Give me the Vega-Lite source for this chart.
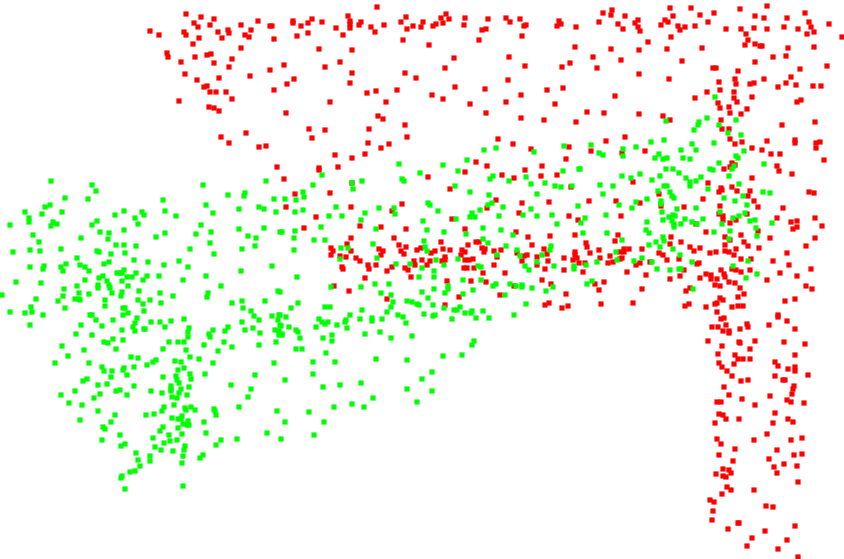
{"$schema":"https://vega.github.io/schema/vega-lite/v6.json","width":844,"height":559,"padding":0,"autosize":"none","background":"white","view":{"stroke":null},"config":{"view":{"stroke":null}},
"data":{"values":[
{"x":186,"y":14,"s":"r"},{"x":201,"y":17,"s":"r"},{"x":214,"y":19,"s":"r"},{"x":194,"y":23,"s":"r"},{"x":198,"y":27,"s":"r"},{"x":210,"y":25,"s":"r"},{"x":150,"y":31,"s":"r"},{"x":159,"y":35,"s":"r"},{"x":184,"y":32,"s":"r"},{"x":186,"y":35,"s":"r"},{"x":199,"y":38,"s":"r"},{"x":193,"y":44,"s":"r"},{"x":218,"y":32,"s":"r"},{"x":228,"y":30,"s":"r"},{"x":229,"y":33,"s":"r"},{"x":222,"y":38,"s":"r"},{"x":241,"y":25,"s":"r"},{"x":258,"y":21,"s":"r"},{"x":251,"y":30,"s":"r"},{"x":245,"y":35,"s":"r"},{"x":249,"y":37,"s":"r"},{"x":241,"y":48,"s":"r"},{"x":270,"y":26,"s":"r"},{"x":272,"y":26,"s":"r"},{"x":274,"y":39,"s":"r"},{"x":293,"y":21,"s":"r"},{"x":293,"y":23,"s":"r"},{"x":301,"y":26,"s":"r"},{"x":308,"y":23,"s":"r"},{"x":312,"y":19,"s":"r"},{"x":322,"y":22,"s":"r"},{"x":308,"y":33,"s":"r"},{"x":297,"y":36,"s":"r"},{"x":319,"y":49,"s":"r"},{"x":336,"y":28,"s":"r"},{"x":348,"y":16,"s":"r"},{"x":350,"y":21,"s":"r"},{"x":350,"y":24,"s":"r"},{"x":350,"y":28,"s":"r"},{"x":361,"y":22,"s":"r"},{"x":359,"y":25,"s":"r"},{"x":371,"y":27,"s":"r"},{"x":375,"y":32,"s":"r"},{"x":343,"y":35,"s":"r"},{"x":352,"y":50,"s":"r"},{"x":377,"y":7,"s":"r"},{"x":384,"y":25,"s":"r"},{"x":401,"y":22,"s":"r"},{"x":406,"y":17,"s":"r"},{"x":407,"y":29,"s":"r"},{"x":413,"y":26,"s":"r"},{"x":421,"y":27,"s":"r"},{"x":423,"y":22,"s":"r"},{"x":433,"y":26,"s":"r"},{"x":436,"y":24,"s":"r"},{"x":441,"y":18,"s":"r"},{"x":443,"y":23,"s":"r"},{"x":446,"y":14,"s":"r"},{"x":449,"y":19,"s":"r"},{"x":465,"y":18,"s":"r"},{"x":464,"y":25,"s":"r"},{"x":482,"y":30,"s":"r"},{"x":486,"y":29,"s":"r"},{"x":488,"y":19,"s":"r"},{"x":479,"y":40,"s":"r"},{"x":403,"y":40,"s":"r"},{"x":429,"y":45,"s":"r"},{"x":167,"y":53,"s":"r"},{"x":168,"y":57,"s":"r"},{"x":181,"y":62,"s":"r"},{"x":195,"y":57,"s":"r"},{"x":207,"y":55,"s":"r"},{"x":211,"y":54,"s":"r"},{"x":214,"y":63,"s":"r"},{"x":232,"y":59,"s":"r"},{"x":229,"y":67,"s":"r"},{"x":185,"y":74,"s":"r"},{"x":197,"y":80,"s":"r"},{"x":219,"y":78,"s":"r"},{"x":207,"y":86,"s":"r"},{"x":204,"y":87,"s":"r"},{"x":210,"y":92,"s":"r"},{"x":216,"y":92,"s":"r"},{"x":226,"y":92,"s":"r"},{"x":232,"y":99,"s":"r"},{"x":179,"y":101,"s":"r"},{"x":209,"y":107,"s":"r"},{"x":214,"y":108,"s":"r"},{"x":219,"y":111,"s":"r"},{"x":250,"y":76,"s":"r"},{"x":270,"y":70,"s":"r"},{"x":284,"y":65,"s":"r"},{"x":294,"y":79,"s":"r"},{"x":287,"y":84,"s":"r"},{"x":274,"y":90,"s":"r"},{"x":286,"y":113,"s":"r"},{"x":221,"y":137,"s":"r"},{"x":229,"y":143,"s":"r"},{"x":246,"y":133,"s":"r"},{"x":259,"y":147,"s":"r"},{"x":266,"y":146,"s":"r"},{"x":277,"y":167,"s":"r"},{"x":309,"y":129,"s":"r"},{"x":325,"y":130,"s":"r"},{"x":312,"y":138,"s":"r"},{"x":319,"y":168,"s":"r"},{"x":338,"y":167,"s":"r"},{"x":335,"y":155,"s":"r"},{"x":352,"y":158,"s":"r"},{"x":365,"y":154,"s":"r"},{"x":368,"y":143,"s":"r"},{"x":381,"y":148,"s":"r"},{"x":389,"y":144,"s":"r"},{"x":407,"y":137,"s":"r"},{"x":405,"y":125,"s":"r"},{"x":369,"y":129,"s":"r"},{"x":378,"y":116,"s":"r"},{"x":383,"y":119,"s":"r"},{"x":386,"y":102,"s":"r"},{"x":330,"y":102,"s":"r"},{"x":325,"y":67,"s":"r"},{"x":340,"y":62,"s":"r"},{"x":352,"y":73,"s":"r"},{"x":350,"y":83,"s":"r"},{"x":367,"y":93,"s":"r"},{"x":376,"y":91,"s":"r"},{"x":397,"y":90,"s":"r"},{"x":405,"y":73,"s":"r"},{"x":416,"y":78,"s":"r"},{"x":432,"y":95,"s":"r"},{"x":443,"y":99,"s":"r"},{"x":455,"y":87,"s":"r"},{"x":454,"y":58,"s":"r"},{"x":445,"y":68,"s":"r"},{"x":470,"y":104,"s":"r"},{"x":485,"y":89,"s":"r"},{"x":486,"y":113,"s":"r"},{"x":476,"y":162,"s":"r"},{"x":487,"y":166,"s":"r"},
{"x":506,"y":18,"s":"r"},{"x":510,"y":22,"s":"r"},{"x":520,"y":19,"s":"r"},{"x":524,"y":26,"s":"r"},{"x":526,"y":25,"s":"r"},{"x":522,"y":36,"s":"r"},{"x":559,"y":21,"s":"r"},{"x":561,"y":24,"s":"r"},{"x":557,"y":26,"s":"r"},{"x":576,"y":27,"s":"r"},{"x":603,"y":13,"s":"r"},{"x":612,"y":10,"s":"r"},{"x":611,"y":15,"s":"r"},{"x":625,"y":16,"s":"r"},{"x":599,"y":22,"s":"r"},{"x":618,"y":24,"s":"r"},{"x":623,"y":29,"s":"r"},{"x":638,"y":20,"s":"r"},{"x":635,"y":23,"s":"r"},{"x":638,"y":27,"s":"r"},{"x":640,"y":31,"s":"r"},{"x":648,"y":42,"s":"r"},{"x":670,"y":8,"s":"r"},{"x":673,"y":16,"s":"r"},{"x":665,"y":20,"s":"r"},{"x":668,"y":22,"s":"r"},{"x":661,"y":25,"s":"r"},{"x":678,"y":26,"s":"r"},{"x":680,"y":30,"s":"r"},{"x":685,"y":27,"s":"r"},{"x":671,"y":37,"s":"r"},{"x":691,"y":8,"s":"r"},{"x":700,"y":15,"s":"r"},{"x":695,"y":26,"s":"r"},{"x":708,"y":22,"s":"r"},{"x":714,"y":13,"s":"r"},{"x":726,"y":29,"s":"r"},{"x":740,"y":9,"s":"r"},{"x":741,"y":29,"s":"r"},{"x":746,"y":34,"s":"r"},{"x":755,"y":16,"s":"r"},{"x":754,"y":28,"s":"r"},{"x":767,"y":6,"s":"r"},{"x":764,"y":18,"s":"r"},{"x":767,"y":29,"s":"r"},{"x":787,"y":18,"s":"r"},{"x":784,"y":27,"s":"r"},{"x":798,"y":29,"s":"r"},{"x":805,"y":13,"s":"r"},{"x":809,"y":22,"s":"r"},{"x":811,"y":27,"s":"r"},{"x":807,"y":34,"s":"r"},{"x":814,"y":32,"s":"r"},{"x":829,"y":24,"s":"r"},{"x":842,"y":37,"s":"r"},{"x":748,"y":40,"s":"r"},{"x":745,"y":45,"s":"r"},{"x":755,"y":44,"s":"r"},{"x":760,"y":46,"s":"r"},{"x":762,"y":46,"s":"r"},{"x":788,"y":48,"s":"r"},{"x":814,"y":47,"s":"r"},{"x":773,"y":57,"s":"r"},{"x":786,"y":56,"s":"r"},{"x":755,"y":62,"s":"r"},{"x":827,"y":66,"s":"r"},{"x":800,"y":69,"s":"r"},{"x":791,"y":77,"s":"r"},{"x":786,"y":83,"s":"r"},{"x":796,"y":85,"s":"r"},{"x":778,"y":87,"s":"r"},{"x":813,"y":86,"s":"r"},{"x":821,"y":86,"s":"r"},{"x":801,"y":100,"s":"r"},{"x":797,"y":102,"s":"r"},{"x":815,"y":122,"s":"r"},{"x":782,"y":125,"s":"r"},{"x":575,"y":47,"s":"r"},{"x":611,"y":49,"s":"r"},{"x":639,"y":50,"s":"r"},{"x":667,"y":49,"s":"r"},{"x":702,"y":48,"s":"r"},{"x":593,"y":57,"s":"r"},{"x":621,"y":60,"s":"r"},{"x":509,"y":57,"s":"r"},{"x":525,"y":66,"s":"r"},{"x":570,"y":63,"s":"r"},{"x":562,"y":67,"s":"r"},{"x":597,"y":68,"s":"r"},{"x":682,"y":61,"s":"r"},{"x":713,"y":68,"s":"r"},{"x":716,"y":68,"s":"r"},{"x":738,"y":71,"s":"r"},{"x":639,"y":74,"s":"r"},{"x":508,"y":80,"s":"r"},{"x":669,"y":79,"s":"r"},{"x":719,"y":82,"s":"r"},{"x":735,"y":79,"s":"r"},{"x":736,"y":84,"s":"r"},{"x":750,"y":84,"s":"r"},{"x":754,"y":83,"s":"r"},{"x":764,"y":79,"s":"r"},{"x":547,"y":90,"s":"r"},{"x":563,"y":88,"s":"r"},{"x":521,"y":95,"s":"r"},{"x":506,"y":102,"s":"r"},{"x":555,"y":104,"s":"r"},{"x":615,"y":96,"s":"r"},{"x":707,"y":92,"s":"r"},{"x":720,"y":90,"s":"r"},{"x":734,"y":92,"s":"r"},{"x":695,"y":98,"s":"r"},{"x":734,"y":98,"s":"r"},{"x":752,"y":97,"s":"r"},{"x":718,"y":103,"s":"r"},{"x":737,"y":102,"s":"r"},{"x":729,"y":107,"s":"r"},{"x":720,"y":108,"s":"r"},{"x":747,"y":109,"s":"r"},{"x":730,"y":113,"s":"r"},{"x":741,"y":114,"s":"r"},{"x":587,"y":112,"s":"r"},{"x":604,"y":113,"s":"r"},{"x":639,"y":114,"s":"r"},{"x":663,"y":116,"s":"r"},{"x":670,"y":120,"s":"r"},{"x":521,"y":118,"s":"r"},{"x":544,"y":120,"s":"r"},{"x":576,"y":122,"s":"r"},{"x":721,"y":120,"s":"r"},{"x":722,"y":129,"s":"r"},{"x":729,"y":129,"s":"r"},
{"x":498,"y":139,"s":"r"},{"x":513,"y":144,"s":"r"},{"x":531,"y":149,"s":"r"},{"x":542,"y":166,"s":"r"},{"x":557,"y":175,"s":"r"},{"x":625,"y":137,"s":"r"},{"x":606,"y":141,"s":"r"},{"x":591,"y":151,"s":"r"},{"x":569,"y":147,"s":"r"},{"x":566,"y":159,"s":"r"},{"x":645,"y":151,"s":"r"},{"x":622,"y":153,"s":"r"},{"x":730,"y":139,"s":"r"},{"x":735,"y":144,"s":"r"},{"x":742,"y":142,"s":"r"},{"x":767,"y":141,"s":"r"},{"x":795,"y":140,"s":"r"},{"x":795,"y":143,"s":"r"},{"x":816,"y":143,"s":"r"},{"x":820,"y":142,"s":"r"},{"x":816,"y":148,"s":"r"},{"x":752,"y":148,"s":"r"},{"x":762,"y":150,"s":"r"},{"x":771,"y":154,"s":"r"},{"x":780,"y":154,"s":"r"},{"x":824,"y":160,"s":"r"},{"x":732,"y":163,"s":"r"},{"x":735,"y":165,"s":"r"},{"x":730,"y":167,"s":"r"},{"x":724,"y":169,"s":"r"},{"x":777,"y":166,"s":"r"},{"x":779,"y":171,"s":"r"},{"x":792,"y":174,"s":"r"},{"x":752,"y":178,"s":"r"},{"x":633,"y":182,"s":"r"},{"x":708,"y":183,"s":"r"},{"x":571,"y":187,"s":"r"},{"x":732,"y":187,"s":"r"},{"x":721,"y":188,"s":"r"},{"x":719,"y":192,"s":"r"},{"x":722,"y":190,"s":"r"},{"x":737,"y":191,"s":"r"},{"x":750,"y":191,"s":"r"},{"x":748,"y":196,"s":"r"},{"x":809,"y":192,"s":"r"},{"x":814,"y":193,"s":"r"},{"x":659,"y":194,"s":"r"},{"x":703,"y":199,"s":"r"},{"x":754,"y":201,"s":"r"},{"x":589,"y":201,"s":"r"},{"x":616,"y":201,"s":"r"},{"x":640,"y":203,"s":"r"},{"x":661,"y":206,"s":"r"},{"x":758,"y":207,"s":"r"},{"x":684,"y":207,"s":"r"},{"x":720,"y":206,"s":"r"},{"x":783,"y":208,"s":"r"},{"x":569,"y":216,"s":"r"},{"x":578,"y":220,"s":"r"},{"x":621,"y":216,"s":"r"},{"x":719,"y":214,"s":"r"},{"x":723,"y":216,"s":"r"},{"x":723,"y":220,"s":"r"},{"x":736,"y":220,"s":"r"},{"x":747,"y":214,"s":"r"},{"x":777,"y":218,"s":"r"},{"x":791,"y":222,"s":"r"},{"x":797,"y":221,"s":"r"},{"x":797,"y":227,"s":"r"},{"x":793,"y":229,"s":"r"},{"x":815,"y":218,"s":"r"},{"x":822,"y":226,"s":"r"},{"x":730,"y":223,"s":"r"},{"x":696,"y":224,"s":"r"},{"x":706,"y":232,"s":"r"},{"x":758,"y":231,"s":"r"},{"x":575,"y":235,"s":"r"},{"x":618,"y":235,"s":"r"},{"x":671,"y":237,"s":"r"},{"x":615,"y":241,"s":"r"},{"x":681,"y":242,"s":"r"},{"x":725,"y":237,"s":"r"},{"x":730,"y":240,"s":"r"},{"x":741,"y":235,"s":"r"},{"x":770,"y":238,"s":"r"},{"x":815,"y":238,"s":"r"},{"x":744,"y":242,"s":"r"},{"x":586,"y":243,"s":"r"},{"x":587,"y":247,"s":"r"},{"x":599,"y":250,"s":"r"},{"x":590,"y":253,"s":"r"},{"x":624,"y":249,"s":"r"},{"x":629,"y":249,"s":"r"},{"x":642,"y":249,"s":"r"},{"x":670,"y":244,"s":"r"},{"x":690,"y":247,"s":"r"},{"x":700,"y":248,"s":"r"},{"x":694,"y":251,"s":"r"},{"x":725,"y":245,"s":"r"},{"x":736,"y":249,"s":"r"},{"x":748,"y":246,"s":"r"},{"x":759,"y":248,"s":"r"},{"x":806,"y":246,"s":"r"},{"x":787,"y":253,"s":"r"},{"x":575,"y":252,"s":"r"},{"x":575,"y":255,"s":"r"},{"x":564,"y":258,"s":"r"},{"x":573,"y":260,"s":"r"},{"x":577,"y":258,"s":"r"},{"x":620,"y":252,"s":"r"},{"x":624,"y":252,"s":"r"},{"x":659,"y":253,"s":"r"},{"x":663,"y":255,"s":"r"},{"x":710,"y":253,"s":"r"},{"x":716,"y":252,"s":"r"},{"x":725,"y":251,"s":"r"},{"x":729,"y":252,"s":"r"},{"x":734,"y":255,"s":"r"},{"x":600,"y":258,"s":"r"},{"x":610,"y":256,"s":"r"},{"x":620,"y":259,"s":"r"},{"x":622,"y":258,"s":"r"},{"x":679,"y":259,"s":"r"},{"x":667,"y":260,"s":"r"},{"x":741,"y":259,"s":"r"},{"x":751,"y":259,"s":"r"},{"x":773,"y":261,"s":"r"},{"x":579,"y":263,"s":"r"},{"x":585,"y":263,"s":"r"},{"x":608,"y":263,"s":"r"},{"x":613,"y":262,"s":"r"},{"x":640,"y":263,"s":"r"},{"x":636,"y":265,"s":"r"},{"x":650,"y":262,"s":"r"},{"x":697,"y":264,"s":"r"},{"x":699,"y":263,"s":"r"},{"x":789,"y":265,"s":"r"},{"x":564,"y":270,"s":"r"},{"x":583,"y":272,"s":"r"},{"x":627,"y":272,"s":"r"},{"x":646,"y":275,"s":"r"},{"x":684,"y":270,"s":"r"},{"x":680,"y":276,"s":"r"},{"x":670,"y":279,"s":"r"},{"x":732,"y":269,"s":"r"},{"x":736,"y":270,"s":"r"},{"x":721,"y":270,"s":"r"},{"x":750,"y":270,"s":"r"},{"x":741,"y":272,"s":"r"},{"x":811,"y":269,"s":"r"},{"x":706,"y":274,"s":"r"},{"x":711,"y":275,"s":"r"},{"x":711,"y":279,"s":"r"},{"x":724,"y":274,"s":"r"},{"x":725,"y":277,"s":"r"},{"x":717,"y":279,"s":"r"},{"x":700,"y":278,"s":"r"},{"x":729,"y":282,"s":"r"},{"x":735,"y":283,"s":"r"},{"x":715,"y":285,"s":"r"},{"x":720,"y":286,"s":"r"},{"x":740,"y":288,"s":"r"},{"x":780,"y":273,"s":"r"},{"x":797,"y":276,"s":"r"},{"x":767,"y":280,"s":"r"},{"x":806,"y":286,"s":"r"},{"x":812,"y":289,"s":"r"},{"x":604,"y":282,"s":"r"},{"x":595,"y":284,"s":"r"},{"x":599,"y":290,"s":"r"},{"x":642,"y":289,"s":"r"},{"x":686,"y":291,"s":"r"},{"x":690,"y":288,"s":"r"},{"x":744,"y":294,"s":"r"},{"x":738,"y":297,"s":"r"},{"x":720,"y":298,"s":"r"},{"x":723,"y":300,"s":"r"},{"x":717,"y":303,"s":"r"},{"x":715,"y":304,"s":"r"},{"x":785,"y":301,"s":"r"},{"x":795,"y":299,"s":"r"},{"x":566,"y":294,"s":"r"},{"x":568,"y":306,"s":"r"},{"x":562,"y":308,"s":"r"},{"x":601,"y":304,"s":"r"},{"x":633,"y":303,"s":"r"},{"x":689,"y":304,"s":"r"},{"x":685,"y":306,"s":"r"},{"x":706,"y":307,"s":"r"},{"x":732,"y":307,"s":"r"},{"x":738,"y":306,"s":"r"},{"x":743,"y":306,"s":"r"},{"x":717,"y":312,"s":"r"},{"x":778,"y":315,"s":"r"},{"x":778,"y":317,"s":"r"},{"x":724,"y":318,"s":"r"},{"x":721,"y":319,"s":"r"},{"x":787,"y":321,"s":"r"},
{"x":712,"y":327,"s":"r"},{"x":718,"y":327,"s":"r"},{"x":726,"y":325,"s":"r"},{"x":723,"y":331,"s":"r"},{"x":729,"y":331,"s":"r"},{"x":729,"y":333,"s":"r"},{"x":740,"y":329,"s":"r"},{"x":747,"y":324,"s":"r"},{"x":748,"y":327,"s":"r"},{"x":769,"y":325,"s":"r"},{"x":795,"y":329,"s":"r"},{"x":708,"y":341,"s":"r"},{"x":722,"y":346,"s":"r"},{"x":739,"y":342,"s":"r"},{"x":740,"y":343,"s":"r"},{"x":755,"y":341,"s":"r"},{"x":750,"y":349,"s":"r"},{"x":784,"y":342,"s":"r"},{"x":805,"y":344,"s":"r"},{"x":795,"y":355,"s":"r"},{"x":718,"y":354,"s":"r"},{"x":735,"y":355,"s":"r"},{"x":738,"y":359,"s":"r"},{"x":743,"y":359,"s":"r"},{"x":750,"y":359,"s":"r"},{"x":719,"y":363,"s":"r"},{"x":734,"y":364,"s":"r"},{"x":722,"y":367,"s":"r"},{"x":727,"y":371,"s":"r"},{"x":732,"y":376,"s":"r"},{"x":741,"y":381,"s":"r"},{"x":748,"y":380,"s":"r"},{"x":775,"y":362,"s":"r"},{"x":778,"y":366,"s":"r"},{"x":788,"y":369,"s":"r"},{"x":795,"y":367,"s":"r"},{"x":795,"y":371,"s":"r"},{"x":775,"y":376,"s":"r"},{"x":808,"y":375,"s":"r"},{"x":783,"y":380,"s":"r"},{"x":785,"y":380,"s":"r"},{"x":724,"y":387,"s":"r"},{"x":794,"y":386,"s":"r"},{"x":793,"y":389,"s":"r"},{"x":792,"y":394,"s":"r"},{"x":729,"y":395,"s":"r"},{"x":770,"y":396,"s":"r"},{"x":742,"y":399,"s":"r"},{"x":717,"y":402,"s":"r"},{"x":721,"y":402,"s":"r"},{"x":787,"y":400,"s":"r"},{"x":791,"y":402,"s":"r"},{"x":804,"y":403,"s":"r"},{"x":755,"y":405,"s":"r"},{"x":719,"y":414,"s":"r"},{"x":723,"y":415,"s":"r"},{"x":726,"y":419,"s":"r"},{"x":739,"y":419,"s":"r"},{"x":715,"y":423,"s":"r"},{"x":775,"y":413,"s":"r"},{"x":788,"y":419,"s":"r"},{"x":793,"y":422,"s":"r"},{"x":773,"y":423,"s":"r"},{"x":767,"y":434,"s":"r"},{"x":717,"y":439,"s":"r"},{"x":721,"y":444,"s":"r"},{"x":754,"y":440,"s":"r"},{"x":791,"y":440,"s":"r"},{"x":802,"y":438,"s":"r"},{"x":735,"y":449,"s":"r"},{"x":777,"y":450,"s":"r"},{"x":719,"y":455,"s":"r"},{"x":794,"y":455,"s":"r"},{"x":802,"y":454,"s":"r"},{"x":733,"y":461,"s":"r"},{"x":769,"y":459,"s":"r"},{"x":784,"y":464,"s":"r"},{"x":774,"y":467,"s":"r"},{"x":797,"y":466,"s":"r"},{"x":777,"y":473,"s":"r"},{"x":723,"y":469,"s":"r"},{"x":729,"y":470,"s":"r"},{"x":731,"y":473,"s":"r"},{"x":716,"y":474,"s":"r"},{"x":723,"y":476,"s":"r"},{"x":726,"y":477,"s":"r"},{"x":798,"y":482,"s":"r"},{"x":727,"y":487,"s":"r"},{"x":731,"y":490,"s":"r"},{"x":754,"y":490,"s":"r"},{"x":722,"y":494,"s":"r"},{"x":710,"y":500,"s":"r"},{"x":714,"y":502,"s":"r"},{"x":713,"y":511,"s":"r"},{"x":712,"y":520,"s":"r"},{"x":766,"y":506,"s":"r"},{"x":773,"y":507,"s":"r"},{"x":739,"y":523,"s":"r"},{"x":738,"y":523,"s":"r"},{"x":728,"y":529,"s":"r"},{"x":795,"y":526,"s":"r"},{"x":765,"y":531,"s":"r"},{"x":752,"y":538,"s":"r"},{"x":787,"y":540,"s":"r"},{"x":747,"y":546,"s":"r"},{"x":778,"y":549,"s":"r"},{"x":798,"y":557,"s":"r"},
{"x":284,"y":179,"s":"r"},{"x":319,"y":170,"s":"r"},{"x":295,"y":194,"s":"r"},{"x":286,"y":207,"s":"r"},{"x":330,"y":193,"s":"r"},{"x":352,"y":183,"s":"r"},{"x":316,"y":217,"s":"r"},{"x":351,"y":207,"s":"r"},{"x":304,"y":228,"s":"r"},{"x":360,"y":226,"s":"r"},{"x":381,"y":227,"s":"r"},{"x":392,"y":211,"s":"r"},{"x":402,"y":204,"s":"r"},{"x":406,"y":229,"s":"r"},{"x":428,"y":177,"s":"r"},{"x":450,"y":189,"s":"r"},{"x":465,"y":172,"s":"r"},{"x":452,"y":219,"s":"r"},{"x":465,"y":229,"s":"r"},{"x":496,"y":200,"s":"r"},{"x":487,"y":208,"s":"r"},{"x":502,"y":175,"s":"r"},{"x":514,"y":178,"s":"r"},{"x":541,"y":176,"s":"r"},{"x":522,"y":203,"s":"r"},{"x":519,"y":213,"s":"r"},{"x":549,"y":202,"s":"r"},{"x":525,"y":170,"s":"r"},{"x":351,"y":238,"s":"r"},{"x":394,"y":238,"s":"r"},{"x":347,"y":244,"s":"r"},{"x":331,"y":248,"s":"r"},{"x":333,"y":251,"s":"r"},{"x":331,"y":255,"s":"r"},{"x":340,"y":256,"s":"r"},{"x":346,"y":257,"s":"r"},{"x":351,"y":251,"s":"r"},{"x":356,"y":258,"s":"r"},{"x":360,"y":261,"s":"r"},{"x":368,"y":265,"s":"r"},{"x":369,"y":269,"s":"r"},{"x":376,"y":265,"s":"r"},{"x":342,"y":267,"s":"r"},{"x":343,"y":269,"s":"r"},{"x":379,"y":249,"s":"r"},{"x":383,"y":251,"s":"r"},{"x":381,"y":255,"s":"r"},{"x":392,"y":267,"s":"r"},{"x":387,"y":271,"s":"r"},{"x":365,"y":278,"s":"r"},{"x":399,"y":245,"s":"r"},{"x":406,"y":247,"s":"r"},{"x":401,"y":251,"s":"r"},{"x":404,"y":254,"s":"r"},{"x":405,"y":268,"s":"r"},{"x":408,"y":270,"s":"r"},{"x":414,"y":261,"s":"r"},{"x":415,"y":265,"s":"r"},{"x":411,"y":277,"s":"r"},{"x":417,"y":250,"s":"r"},{"x":421,"y":248,"s":"r"},{"x":422,"y":260,"s":"r"},{"x":427,"y":265,"s":"r"},{"x":431,"y":253,"s":"r"},{"x":435,"y":251,"s":"r"},{"x":430,"y":261,"s":"r"},{"x":441,"y":242,"s":"r"},{"x":443,"y":249,"s":"r"},{"x":450,"y":250,"s":"r"},{"x":445,"y":257,"s":"r"},{"x":442,"y":261,"s":"r"},{"x":445,"y":260,"s":"r"},{"x":462,"y":250,"s":"r"},{"x":465,"y":252,"s":"r"},{"x":461,"y":255,"s":"r"},{"x":468,"y":245,"s":"r"},{"x":476,"y":242,"s":"r"},{"x":479,"y":242,"s":"r"},{"x":482,"y":248,"s":"r"},{"x":485,"y":249,"s":"r"},{"x":484,"y":252,"s":"r"},{"x":465,"y":260,"s":"r"},{"x":469,"y":260,"s":"r"},{"x":473,"y":259,"s":"r"},{"x":464,"y":268,"s":"r"},{"x":467,"y":268,"s":"r"},{"x":474,"y":268,"s":"r"},{"x":494,"y":251,"s":"r"},{"x":501,"y":250,"s":"r"},{"x":497,"y":257,"s":"r"},{"x":494,"y":265,"s":"r"},{"x":483,"y":273,"s":"r"},{"x":505,"y":273,"s":"r"},{"x":516,"y":232,"s":"r"},{"x":528,"y":237,"s":"r"},{"x":532,"y":245,"s":"r"},{"x":544,"y":249,"s":"r"},{"x":550,"y":236,"s":"r"},{"x":517,"y":253,"s":"r"},{"x":527,"y":255,"s":"r"},{"x":524,"y":256,"s":"r"},{"x":537,"y":257,"s":"r"},{"x":547,"y":254,"s":"r"},{"x":548,"y":261,"s":"r"},{"x":522,"y":261,"s":"r"},{"x":537,"y":265,"s":"r"},{"x":545,"y":269,"s":"r"},{"x":447,"y":281,"s":"r"},{"x":471,"y":281,"s":"r"},{"x":486,"y":282,"s":"r"},{"x":542,"y":280,"s":"r"},{"x":551,"y":284,"s":"r"},{"x":334,"y":286,"s":"r"},{"x":349,"y":291,"s":"r"},{"x":387,"y":299,"s":"r"},{"x":459,"y":297,"s":"r"},{"x":445,"y":305,"s":"r"},{"x":500,"y":295,"s":"r"},{"x":514,"y":286,"s":"r"},{"x":545,"y":305,"s":"r"},{"x":549,"y":303,"s":"r"},
{"x":51,"y":181,"s":"g"},{"x":92,"y":185,"s":"g"},{"x":96,"y":191,"s":"g"},{"x":65,"y":198,"s":"g"},{"x":88,"y":199,"s":"g"},{"x":50,"y":205,"s":"g"},{"x":45,"y":207,"s":"g"},{"x":62,"y":212,"s":"g"},{"x":25,"y":212,"s":"g"},{"x":42,"y":214,"s":"g"},{"x":29,"y":218,"s":"g"},{"x":29,"y":222,"s":"g"},{"x":10,"y":225,"s":"g"},{"x":53,"y":222,"s":"g"},{"x":57,"y":224,"s":"g"},{"x":51,"y":226,"s":"g"},{"x":33,"y":235,"s":"g"},{"x":39,"y":242,"s":"g"},{"x":81,"y":238,"s":"g"},{"x":100,"y":232,"s":"g"},{"x":109,"y":233,"s":"g"},{"x":108,"y":239,"s":"g"},{"x":92,"y":225,"s":"g"},{"x":97,"y":221,"s":"g"},{"x":115,"y":215,"s":"g"},{"x":124,"y":211,"s":"g"},{"x":142,"y":212,"s":"g"},{"x":144,"y":215,"s":"g"},{"x":135,"y":218,"s":"g"},{"x":138,"y":224,"s":"g"},{"x":124,"y":230,"s":"g"},{"x":116,"y":245,"s":"g"},{"x":124,"y":245,"s":"g"},{"x":136,"y":246,"s":"g"},{"x":13,"y":252,"s":"g"},{"x":30,"y":250,"s":"g"},{"x":40,"y":251,"s":"g"},{"x":61,"y":249,"s":"g"},{"x":97,"y":251,"s":"g"},{"x":99,"y":252,"s":"g"},{"x":111,"y":254,"s":"g"},{"x":125,"y":253,"s":"g"},{"x":77,"y":258,"s":"g"},{"x":104,"y":264,"s":"g"},{"x":109,"y":262,"s":"g"},{"x":134,"y":260,"s":"g"},{"x":148,"y":262,"s":"g"},{"x":66,"y":264,"s":"g"},{"x":80,"y":265,"s":"g"},{"x":85,"y":267,"s":"g"},{"x":44,"y":266,"s":"g"},{"x":43,"y":269,"s":"g"},{"x":30,"y":267,"s":"g"},{"x":61,"y":267,"s":"g"},{"x":63,"y":271,"s":"g"},{"x":89,"y":271,"s":"g"},{"x":124,"y":270,"s":"g"},{"x":117,"y":273,"s":"g"},{"x":120,"y":273,"s":"g"},{"x":122,"y":273,"s":"g"},{"x":136,"y":273,"s":"g"},{"x":132,"y":277,"s":"g"},{"x":127,"y":277,"s":"g"},{"x":103,"y":276,"s":"g"},{"x":99,"y":278,"s":"g"},{"x":147,"y":276,"s":"g"},{"x":143,"y":280,"s":"g"},{"x":85,"y":280,"s":"g"},{"x":16,"y":282,"s":"g"},{"x":41,"y":283,"s":"g"},{"x":107,"y":281,"s":"g"},{"x":122,"y":281,"s":"g"},{"x":109,"y":285,"s":"g"},{"x":110,"y":288,"s":"g"},{"x":98,"y":285,"s":"g"},{"x":98,"y":288,"s":"g"},{"x":128,"y":286,"s":"g"},{"x":77,"y":286,"s":"g"},{"x":64,"y":289,"s":"g"},{"x":139,"y":291,"s":"g"},{"x":122,"y":292,"s":"g"},{"x":112,"y":293,"s":"g"},{"x":79,"y":293,"s":"g"},{"x":89,"y":294,"s":"g"},{"x":63,"y":296,"s":"g"},{"x":121,"y":296,"s":"g"},{"x":2,"y":295,"s":"g"},{"x":36,"y":299,"s":"g"},{"x":58,"y":301,"s":"g"},{"x":75,"y":299,"s":"g"},{"x":79,"y":299,"s":"g"},{"x":80,"y":300,"s":"g"},{"x":105,"y":300,"s":"g"},{"x":138,"y":300,"s":"g"},{"x":143,"y":304,"s":"g"},{"x":150,"y":300,"s":"g"},{"x":105,"y":306,"s":"g"},{"x":31,"y":307,"s":"g"},{"x":65,"y":308,"s":"g"},{"x":123,"y":308,"s":"g"},{"x":125,"y":308,"s":"g"},{"x":32,"y":312,"s":"g"},{"x":25,"y":313,"s":"g"},{"x":10,"y":312,"s":"g"},{"x":43,"y":315,"s":"g"},{"x":128,"y":313,"s":"g"},{"x":123,"y":315,"s":"g"},{"x":144,"y":311,"s":"g"},{"x":90,"y":315,"s":"g"},{"x":92,"y":315,"s":"g"},{"x":137,"y":318,"s":"g"},{"x":96,"y":320,"s":"g"},{"x":113,"y":320,"s":"g"},{"x":151,"y":322,"s":"g"},{"x":135,"y":323,"s":"g"},{"x":160,"y":322,"s":"g"},{"x":171,"y":321,"s":"g"},{"x":184,"y":319,"s":"g"},{"x":30,"y":325,"s":"g"},{"x":81,"y":325,"s":"g"},{"x":102,"y":326,"s":"g"},{"x":133,"y":327,"s":"g"},{"x":122,"y":330,"s":"g"},{"x":145,"y":329,"s":"g"},{"x":165,"y":327,"s":"g"},{"x":189,"y":328,"s":"g"},{"x":163,"y":200,"s":"g"},{"x":165,"y":211,"s":"g"},{"x":176,"y":216,"s":"g"},{"x":165,"y":233,"s":"g"},{"x":156,"y":237,"s":"g"},{"x":203,"y":185,"s":"g"},{"x":228,"y":195,"s":"g"},{"x":245,"y":193,"s":"g"},{"x":244,"y":196,"s":"g"},{"x":266,"y":181,"s":"g"},{"x":206,"y":205,"s":"g"},{"x":213,"y":213,"s":"g"},{"x":239,"y":209,"s":"g"},{"x":259,"y":207,"s":"g"},{"x":264,"y":209,"s":"g"},{"x":274,"y":199,"s":"g"},{"x":276,"y":212,"s":"g"},{"x":201,"y":225,"s":"g"},{"x":196,"y":234,"s":"g"},{"x":211,"y":232,"s":"g"},{"x":239,"y":229,"s":"g"},{"x":264,"y":228,"s":"g"},{"x":248,"y":236,"s":"g"},{"x":256,"y":238,"s":"g"},{"x":210,"y":243,"s":"g"},{"x":255,"y":246,"s":"g"},{"x":242,"y":249,"s":"g"},{"x":190,"y":249,"s":"g"},{"x":214,"y":254,"s":"g"},{"x":179,"y":261,"s":"g"},{"x":164,"y":265,"s":"g"},{"x":188,"y":267,"s":"g"},{"x":159,"y":276,"s":"g"},{"x":183,"y":280,"s":"g"},{"x":206,"y":276,"s":"g"},{"x":241,"y":271,"s":"g"},{"x":272,"y":266,"s":"g"},{"x":221,"y":286,"s":"g"},{"x":160,"y":293,"s":"g"},{"x":173,"y":296,"s":"g"},{"x":208,"y":293,"s":"g"},{"x":207,"y":297,"s":"g"},{"x":161,"y":303,"s":"g"},{"x":232,"y":303,"s":"g"},{"x":242,"y":301,"s":"g"},{"x":265,"y":301,"s":"g"},{"x":243,"y":308,"s":"g"},{"x":251,"y":311,"s":"g"},{"x":254,"y":316,"s":"g"},{"x":259,"y":320,"s":"g"},{"x":272,"y":316,"s":"g"},{"x":242,"y":322,"s":"g"},{"x":278,"y":291,"s":"g"},{"x":279,"y":315,"s":"g"},{"x":278,"y":320,"s":"g"},{"x":280,"y":325,"s":"g"},{"x":228,"y":327,"s":"g"},{"x":253,"y":328,"s":"g"},{"x":213,"y":330,"s":"g"},{"x":245,"y":330,"s":"g"},{"x":280,"y":232,"s":"g"},
{"x":76,"y":334,"s":"g"},{"x":92,"y":335,"s":"g"},{"x":135,"y":331,"s":"g"},{"x":144,"y":329,"s":"g"},{"x":188,"y":332,"s":"g"},{"x":188,"y":337,"s":"g"},{"x":209,"y":334,"s":"g"},{"x":210,"y":337,"s":"g"},{"x":225,"y":331,"s":"g"},{"x":260,"y":333,"s":"g"},{"x":275,"y":330,"s":"g"},{"x":279,"y":331,"s":"g"},{"x":279,"y":335,"s":"g"},{"x":282,"y":335,"s":"g"},{"x":289,"y":327,"s":"g"},{"x":296,"y":330,"s":"g"},{"x":298,"y":332,"s":"g"},{"x":300,"y":338,"s":"g"},{"x":316,"y":327,"s":"g"},{"x":323,"y":338,"s":"g"},{"x":62,"y":346,"s":"g"},{"x":104,"y":342,"s":"g"},{"x":108,"y":343,"s":"g"},{"x":113,"y":339,"s":"g"},{"x":123,"y":340,"s":"g"},{"x":116,"y":349,"s":"g"},{"x":84,"y":350,"s":"g"},{"x":68,"y":356,"s":"g"},{"x":169,"y":342,"s":"g"},{"x":178,"y":342,"s":"g"},{"x":184,"y":342,"s":"g"},{"x":163,"y":349,"s":"g"},{"x":186,"y":350,"s":"g"},{"x":204,"y":345,"s":"g"},{"x":224,"y":342,"s":"g"},{"x":232,"y":347,"s":"g"},{"x":218,"y":351,"s":"g"},{"x":259,"y":345,"s":"g"},{"x":276,"y":342,"s":"g"},{"x":296,"y":349,"s":"g"},{"x":302,"y":349,"s":"g"},{"x":326,"y":353,"s":"g"},{"x":131,"y":357,"s":"g"},{"x":138,"y":358,"s":"g"},{"x":190,"y":357,"s":"g"},{"x":199,"y":359,"s":"g"},{"x":55,"y":363,"s":"g"},{"x":89,"y":363,"s":"g"},{"x":156,"y":360,"s":"g"},{"x":153,"y":362,"s":"g"},{"x":147,"y":365,"s":"g"},{"x":175,"y":361,"s":"g"},{"x":181,"y":362,"s":"g"},{"x":213,"y":363,"s":"g"},{"x":274,"y":363,"s":"g"},{"x":313,"y":362,"s":"g"},{"x":102,"y":367,"s":"g"},{"x":104,"y":371,"s":"g"},{"x":112,"y":371,"s":"g"},{"x":124,"y":368,"s":"g"},{"x":123,"y":370,"s":"g"},{"x":134,"y":367,"s":"g"},{"x":127,"y":375,"s":"g"},{"x":111,"y":377,"s":"g"},{"x":184,"y":368,"s":"g"},{"x":178,"y":370,"s":"g"},{"x":190,"y":374,"s":"g"},{"x":191,"y":379,"s":"g"},{"x":205,"y":374,"s":"g"},{"x":176,"y":376,"s":"g"},{"x":177,"y":380,"s":"g"},{"x":163,"y":377,"s":"g"},{"x":255,"y":375,"s":"g"},{"x":313,"y":374,"s":"g"},{"x":285,"y":380,"s":"g"},{"x":87,"y":379,"s":"g"},{"x":83,"y":381,"s":"g"},{"x":98,"y":385,"s":"g"},{"x":107,"y":384,"s":"g"},{"x":179,"y":383,"s":"g"},{"x":134,"y":386,"s":"g"},{"x":171,"y":386,"s":"g"},{"x":171,"y":389,"s":"g"},{"x":171,"y":391,"s":"g"},{"x":189,"y":387,"s":"g"},{"x":181,"y":389,"s":"g"},{"x":231,"y":385,"s":"g"},{"x":251,"y":389,"s":"g"},{"x":323,"y":387,"s":"g"},{"x":75,"y":391,"s":"g"},{"x":116,"y":391,"s":"g"},{"x":120,"y":390,"s":"g"},{"x":151,"y":391,"s":"g"},{"x":162,"y":393,"s":"g"},{"x":179,"y":393,"s":"g"},{"x":61,"y":395,"s":"g"},{"x":100,"y":394,"s":"g"},{"x":94,"y":398,"s":"g"},{"x":127,"y":395,"s":"g"},{"x":187,"y":395,"s":"g"},{"x":172,"y":397,"s":"g"},{"x":177,"y":398,"s":"g"},{"x":248,"y":397,"s":"g"},{"x":69,"y":403,"s":"g"},{"x":82,"y":405,"s":"g"},{"x":164,"y":407,"s":"g"},{"x":174,"y":405,"s":"g"},{"x":185,"y":408,"s":"g"},{"x":186,"y":410,"s":"g"},{"x":191,"y":407,"s":"g"},{"x":195,"y":410,"s":"g"},{"x":239,"y":407,"s":"g"},{"x":214,"y":409,"s":"g"},{"x":215,"y":411,"s":"g"},{"x":216,"y":415,"s":"g"},{"x":98,"y":411,"s":"g"},{"x":162,"y":411,"s":"g"},{"x":277,"y":411,"s":"g"},{"x":309,"y":412,"s":"g"},{"x":115,"y":415,"s":"g"},{"x":146,"y":415,"s":"g"},{"x":154,"y":414,"s":"g"},{"x":172,"y":418,"s":"g"},{"x":178,"y":419,"s":"g"},{"x":182,"y":416,"s":"g"},{"x":181,"y":419,"s":"g"},{"x":80,"y":420,"s":"g"},{"x":111,"y":422,"s":"g"},{"x":188,"y":421,"s":"g"},{"x":183,"y":424,"s":"g"},{"x":187,"y":425,"s":"g"},{"x":189,"y":425,"s":"g"},{"x":204,"y":422,"s":"g"},{"x":285,"y":422,"s":"g"},{"x":324,"y":422,"s":"g"},{"x":103,"y":427,"s":"g"},{"x":105,"y":429,"s":"g"},{"x":163,"y":427,"s":"g"},{"x":178,"y":428,"s":"g"},{"x":160,"y":431,"s":"g"},{"x":182,"y":434,"s":"g"},{"x":206,"y":433,"s":"g"},{"x":120,"y":435,"s":"g"},{"x":169,"y":435,"s":"g"},{"x":267,"y":433,"s":"g"},{"x":314,"y":435,"s":"g"},{"x":102,"y":440,"s":"g"},{"x":153,"y":438,"s":"g"},{"x":177,"y":440,"s":"g"},{"x":170,"y":441,"s":"g"},{"x":164,"y":443,"s":"g"},{"x":237,"y":439,"s":"g"},{"x":221,"y":440,"s":"g"},{"x":281,"y":439,"s":"g"},{"x":125,"y":444,"s":"g"},{"x":121,"y":446,"s":"g"},{"x":216,"y":445,"s":"g"},{"x":155,"y":447,"s":"g"},{"x":185,"y":446,"s":"g"},{"x":161,"y":450,"s":"g"},{"x":184,"y":450,"s":"g"},{"x":173,"y":451,"s":"g"},{"x":136,"y":453,"s":"g"},{"x":150,"y":456,"s":"g"},{"x":150,"y":461,"s":"g"},{"x":183,"y":456,"s":"g"},{"x":138,"y":460,"s":"g"},{"x":203,"y":455,"s":"g"},{"x":200,"y":458,"s":"g"},{"x":182,"y":463,"s":"g"},{"x":140,"y":466,"s":"g"},{"x":130,"y":472,"s":"g"},{"x":135,"y":471,"s":"g"},{"x":122,"y":476,"s":"g"},{"x":121,"y":478,"s":"g"},{"x":183,"y":486,"s":"g"},{"x":125,"y":489,"s":"g"},
{"x":322,"y":175,"s":"g"},{"x":313,"y":185,"s":"g"},{"x":352,"y":183,"s":"g"},{"x":353,"y":189,"s":"g"},{"x":362,"y":181,"s":"g"},{"x":402,"y":179,"s":"g"},{"x":404,"y":181,"s":"g"},{"x":420,"y":173,"s":"g"},{"x":303,"y":192,"s":"g"},{"x":304,"y":197,"s":"g"},{"x":285,"y":199,"s":"g"},{"x":296,"y":200,"s":"g"},{"x":295,"y":212,"s":"g"},{"x":303,"y":210,"s":"g"},{"x":336,"y":207,"s":"g"},{"x":329,"y":216,"s":"g"},{"x":342,"y":216,"s":"g"},{"x":365,"y":213,"s":"g"},{"x":379,"y":208,"s":"g"},{"x":394,"y":208,"s":"g"},{"x":395,"y":214,"s":"g"},{"x":361,"y":220,"s":"g"},{"x":321,"y":227,"s":"g"},{"x":376,"y":229,"s":"g"},{"x":282,"y":232,"s":"g"},{"x":295,"y":231,"s":"g"},{"x":294,"y":238,"s":"g"},{"x":314,"y":240,"s":"g"},{"x":325,"y":240,"s":"g"},{"x":294,"y":250,"s":"g"},{"x":341,"y":248,"s":"g"},{"x":348,"y":248,"s":"g"},{"x":373,"y":244,"s":"g"},{"x":340,"y":259,"s":"g"},{"x":377,"y":258,"s":"g"},{"x":396,"y":264,"s":"g"},{"x":410,"y":264,"s":"g"},{"x":422,"y":268,"s":"g"},{"x":434,"y":271,"s":"g"},{"x":444,"y":265,"s":"g"},{"x":436,"y":260,"s":"g"},{"x":424,"y":241,"s":"g"},{"x":425,"y":247,"s":"g"},{"x":427,"y":251,"s":"g"},{"x":458,"y":259,"s":"g"},{"x":428,"y":203,"s":"g"},{"x":430,"y":205,"s":"g"},{"x":438,"y":211,"s":"g"},{"x":423,"y":221,"s":"g"},{"x":427,"y":230,"s":"g"},{"x":444,"y":232,"s":"g"},{"x":455,"y":186,"s":"g"},{"x":470,"y":192,"s":"g"},{"x":458,"y":171,"s":"g"},{"x":456,"y":219,"s":"g"},{"x":472,"y":213,"s":"g"},{"x":470,"y":217,"s":"g"},{"x":475,"y":217,"s":"g"},{"x":480,"y":210,"s":"g"},{"x":488,"y":205,"s":"g"},{"x":492,"y":203,"s":"g"},{"x":489,"y":195,"s":"g"},{"x":490,"y":179,"s":"g"},{"x":493,"y":176,"s":"g"},{"x":509,"y":181,"s":"g"},{"x":526,"y":177,"s":"g"},{"x":531,"y":184,"s":"g"},{"x":545,"y":183,"s":"g"},{"x":555,"y":186,"s":"g"},{"x":537,"y":194,"s":"g"},{"x":503,"y":207,"s":"g"},{"x":531,"y":209,"s":"g"},{"x":499,"y":216,"s":"g"},{"x":523,"y":215,"s":"g"},{"x":537,"y":216,"s":"g"},{"x":552,"y":215,"s":"g"},{"x":557,"y":224,"s":"g"},{"x":466,"y":234,"s":"g"},{"x":483,"y":228,"s":"g"},{"x":501,"y":230,"s":"g"},{"x":513,"y":235,"s":"g"},{"x":483,"y":239,"s":"g"},{"x":488,"y":243,"s":"g"},{"x":506,"y":246,"s":"g"},{"x":497,"y":255,"s":"g"},{"x":517,"y":250,"s":"g"},{"x":520,"y":256,"s":"g"},{"x":542,"y":255,"s":"g"},{"x":551,"y":246,"s":"g"},{"x":550,"y":250,"s":"g"},{"x":537,"y":262,"s":"g"},{"x":525,"y":266,"s":"g"},{"x":529,"y":270,"s":"g"},{"x":554,"y":266,"s":"g"},{"x":478,"y":266,"s":"g"},{"x":481,"y":267,"s":"g"},{"x":463,"y":280,"s":"g"},{"x":481,"y":280,"s":"g"},{"x":434,"y":277,"s":"g"},{"x":419,"y":277,"s":"g"},{"x":297,"y":277,"s":"g"},{"x":331,"y":287,"s":"g"},{"x":361,"y":287,"s":"g"},{"x":375,"y":284,"s":"g"},{"x":389,"y":284,"s":"g"},{"x":381,"y":293,"s":"g"},{"x":391,"y":295,"s":"g"},{"x":422,"y":292,"s":"g"},{"x":434,"y":289,"s":"g"},{"x":448,"y":286,"s":"g"},{"x":448,"y":289,"s":"g"},{"x":445,"y":293,"s":"g"},{"x":463,"y":294,"s":"g"},{"x":473,"y":290,"s":"g"},{"x":493,"y":286,"s":"g"},{"x":496,"y":284,"s":"g"},{"x":510,"y":284,"s":"g"},{"x":516,"y":286,"s":"g"},{"x":522,"y":285,"s":"g"},{"x":522,"y":287,"s":"g"},{"x":532,"y":288,"s":"g"},{"x":553,"y":287,"s":"g"},{"x":546,"y":291,"s":"g"},{"x":505,"y":295,"s":"g"},{"x":526,"y":304,"s":"g"},{"x":393,"y":302,"s":"g"},{"x":407,"y":301,"s":"g"},{"x":412,"y":302,"s":"g"},{"x":417,"y":304,"s":"g"},{"x":419,"y":305,"s":"g"},{"x":428,"y":298,"s":"g"},{"x":433,"y":305,"s":"g"},{"x":444,"y":308,"s":"g"},{"x":460,"y":307,"s":"g"},{"x":454,"y":310,"s":"g"},{"x":457,"y":310,"s":"g"},{"x":483,"y":311,"s":"g"},{"x":465,"y":313,"s":"g"},{"x":472,"y":311,"s":"g"},{"x":471,"y":313,"s":"g"},{"x":514,"y":315,"s":"g"},{"x":298,"y":303,"s":"g"},{"x":291,"y":308,"s":"g"},{"x":325,"y":307,"s":"g"},{"x":330,"y":307,"s":"g"},{"x":362,"y":310,"s":"g"},{"x":391,"y":307,"s":"g"},{"x":387,"y":312,"s":"g"},{"x":350,"y":315,"s":"g"},{"x":398,"y":315,"s":"g"},{"x":403,"y":317,"s":"g"},{"x":424,"y":314,"s":"g"},{"x":433,"y":316,"s":"g"},{"x":435,"y":315,"s":"g"},{"x":452,"y":319,"s":"g"},{"x":476,"y":318,"s":"g"},{"x":489,"y":318,"s":"g"},{"x":286,"y":317,"s":"g"},{"x":280,"y":315,"s":"g"},{"x":319,"y":319,"s":"g"},{"x":346,"y":320,"s":"g"},{"x":345,"y":322,"s":"g"},{"x":360,"y":319,"s":"g"},{"x":372,"y":318,"s":"g"},{"x":372,"y":321,"s":"g"},{"x":382,"y":319,"s":"g"},{"x":322,"y":322,"s":"g"},{"x":328,"y":322,"s":"g"},{"x":325,"y":324,"s":"g"},{"x":406,"y":323,"s":"g"},{"x":337,"y":325,"s":"g"},{"x":281,"y":326,"s":"g"},{"x":347,"y":328,"s":"g"},{"x":282,"y":334,"s":"g"},{"x":380,"y":332,"s":"g"},{"x":365,"y":334,"s":"g"},{"x":332,"y":335,"s":"g"},{"x":332,"y":341,"s":"g"},{"x":391,"y":338,"s":"g"},{"x":412,"y":336,"s":"g"},{"x":474,"y":341,"s":"g"},{"x":472,"y":345,"s":"g"},{"x":462,"y":355,"s":"g"},{"x":443,"y":356,"s":"g"},{"x":376,"y":359,"s":"g"},{"x":407,"y":360,"s":"g"},{"x":335,"y":362,"s":"g"},{"x":280,"y":292,"s":"g"},{"x":432,"y":372,"s":"g"},{"x":422,"y":379,"s":"g"},{"x":340,"y":385,"s":"g"},{"x":361,"y":383,"s":"g"},{"x":407,"y":389,"s":"g"},{"x":432,"y":391,"s":"g"},{"x":373,"y":398,"s":"g"},{"x":417,"y":402,"s":"g"},{"x":334,"y":407,"s":"g"},{"x":352,"y":404,"s":"g"},{"x":364,"y":407,"s":"g"},
{"x":707,"y":118,"s":"g"},{"x":666,"y":121,"s":"g"},{"x":699,"y":122,"s":"g"},{"x":698,"y":125,"s":"g"},{"x":719,"y":125,"s":"g"},{"x":736,"y":120,"s":"g"},{"x":694,"y":130,"s":"g"},{"x":728,"y":133,"s":"g"},{"x":741,"y":135,"s":"g"},{"x":714,"y":143,"s":"g"},{"x":692,"y":144,"s":"g"},{"x":664,"y":140,"s":"g"},{"x":651,"y":142,"s":"g"},{"x":636,"y":147,"s":"g"},{"x":623,"y":149,"s":"g"},{"x":591,"y":145,"s":"g"},{"x":564,"y":146,"s":"g"},{"x":599,"y":153,"s":"g"},{"x":603,"y":155,"s":"g"},{"x":623,"y":156,"s":"g"},{"x":659,"y":154,"s":"g"},{"x":655,"y":158,"s":"g"},{"x":663,"y":159,"s":"g"},{"x":667,"y":158,"s":"g"},{"x":681,"y":150,"s":"g"},{"x":696,"y":150,"s":"g"},{"x":683,"y":158,"s":"g"},{"x":690,"y":159,"s":"g"},{"x":744,"y":151,"s":"g"},{"x":736,"y":156,"s":"g"},{"x":738,"y":158,"s":"g"},{"x":719,"y":163,"s":"g"},{"x":764,"y":164,"s":"g"},{"x":734,"y":166,"s":"g"},{"x":732,"y":169,"s":"g"},{"x":563,"y":171,"s":"g"},{"x":580,"y":169,"s":"g"},{"x":666,"y":169,"s":"g"},{"x":673,"y":169,"s":"g"},{"x":679,"y":173,"s":"g"},{"x":710,"y":169,"s":"g"},{"x":713,"y":170,"s":"g"},{"x":640,"y":174,"s":"g"},{"x":622,"y":176,"s":"g"},{"x":631,"y":178,"s":"g"},{"x":660,"y":176,"s":"g"},{"x":652,"y":180,"s":"g"},{"x":686,"y":178,"s":"g"},{"x":701,"y":177,"s":"g"},{"x":696,"y":181,"s":"g"},{"x":690,"y":182,"s":"g"},{"x":690,"y":186,"s":"g"},{"x":729,"y":176,"s":"g"},{"x":739,"y":184,"s":"g"},{"x":708,"y":189,"s":"g"},{"x":561,"y":187,"s":"g"},{"x":572,"y":186,"s":"g"},{"x":600,"y":185,"s":"g"},{"x":613,"y":186,"s":"g"},{"x":603,"y":194,"s":"g"},{"x":664,"y":186,"s":"g"},{"x":667,"y":186,"s":"g"},{"x":658,"y":191,"s":"g"},{"x":670,"y":192,"s":"g"},{"x":672,"y":196,"s":"g"},{"x":674,"y":198,"s":"g"},{"x":647,"y":199,"s":"g"},{"x":661,"y":201,"s":"g"},{"x":661,"y":204,"s":"g"},{"x":636,"y":202,"s":"g"},{"x":619,"y":205,"s":"g"},{"x":632,"y":208,"s":"g"},{"x":578,"y":206,"s":"g"},{"x":677,"y":209,"s":"g"},{"x":696,"y":208,"s":"g"},{"x":662,"y":212,"s":"g"},{"x":724,"y":198,"s":"g"},{"x":743,"y":196,"s":"g"},{"x":735,"y":201,"s":"g"},{"x":763,"y":192,"s":"g"},{"x":770,"y":193,"s":"g"},{"x":747,"y":205,"s":"g"},{"x":720,"y":212,"s":"g"},{"x":739,"y":216,"s":"g"},{"x":745,"y":213,"s":"g"},{"x":733,"y":218,"s":"g"},{"x":606,"y":215,"s":"g"},{"x":585,"y":218,"s":"g"},{"x":581,"y":223,"s":"g"},{"x":669,"y":217,"s":"g"},{"x":673,"y":215,"s":"g"},{"x":675,"y":216,"s":"g"},{"x":663,"y":220,"s":"g"},{"x":685,"y":219,"s":"g"},{"x":672,"y":221,"s":"g"},{"x":674,"y":224,"s":"g"},{"x":674,"y":227,"s":"g"},{"x":647,"y":222,"s":"g"},{"x":681,"y":224,"s":"g"},{"x":692,"y":222,"s":"g"},{"x":697,"y":224,"s":"g"},{"x":703,"y":219,"s":"g"},{"x":722,"y":224,"s":"g"},{"x":750,"y":221,"s":"g"},{"x":755,"y":220,"s":"g"},{"x":772,"y":223,"s":"g"},{"x":756,"y":228,"s":"g"},{"x":730,"y":231,"s":"g"},{"x":714,"y":232,"s":"g"},{"x":757,"y":236,"s":"g"},{"x":646,"y":230,"s":"g"},{"x":649,"y":233,"s":"g"},{"x":583,"y":233,"s":"g"},{"x":607,"y":233,"s":"g"},{"x":663,"y":237,"s":"g"},{"x":664,"y":241,"s":"g"},{"x":622,"y":240,"s":"g"},{"x":729,"y":239,"s":"g"},{"x":656,"y":242,"s":"g"},{"x":649,"y":245,"s":"g"},{"x":660,"y":247,"s":"g"},{"x":673,"y":249,"s":"g"},{"x":616,"y":252,"s":"g"},{"x":680,"y":255,"s":"g"},{"x":642,"y":258,"s":"g"},{"x":634,"y":261,"s":"g"},{"x":617,"y":260,"s":"g"},{"x":597,"y":262,"s":"g"},{"x":586,"y":265,"s":"g"},{"x":574,"y":266,"s":"g"},{"x":574,"y":269,"s":"g"},{"x":692,"y":262,"s":"g"},{"x":748,"y":261,"s":"g"},{"x":652,"y":262,"s":"g"},{"x":657,"y":269,"s":"g"},{"x":670,"y":270,"s":"g"},{"x":679,"y":269,"s":"g"},{"x":681,"y":269,"s":"g"},{"x":733,"y":266,"s":"g"},{"x":757,"y":274,"s":"g"},{"x":746,"y":278,"s":"g"},{"x":592,"y":281,"s":"g"},{"x":587,"y":284,"s":"g"},{"x":693,"y":289,"s":"g"},{"x":715,"y":97,"s":"g"},{"x":399,"y":164,"s":"g"},{"x":443,"y":165,"s":"g"},{"x":467,"y":160,"s":"g"},{"x":484,"y":150,"s":"g"},{"x":496,"y":148,"s":"g"},{"x":534,"y":152,"s":"g"},{"x":579,"y":169,"s":"g"}
]},
"mark":{"type":"square","size":27,"opacity":1},
"encoding":{
"x":{"field":"x","type":"quantitative","scale":{"domain":[0,844],"nice":false,"zero":false},"axis":null},
"y":{"field":"y","type":"quantitative","scale":{"domain":[559,0],"nice":false,"zero":false},"axis":null},
"color":{"field":"s","type":"nominal","scale":{"domain":["r","g"],"range":["#ff0000","#00ff00"]},"legend":null}
}}
